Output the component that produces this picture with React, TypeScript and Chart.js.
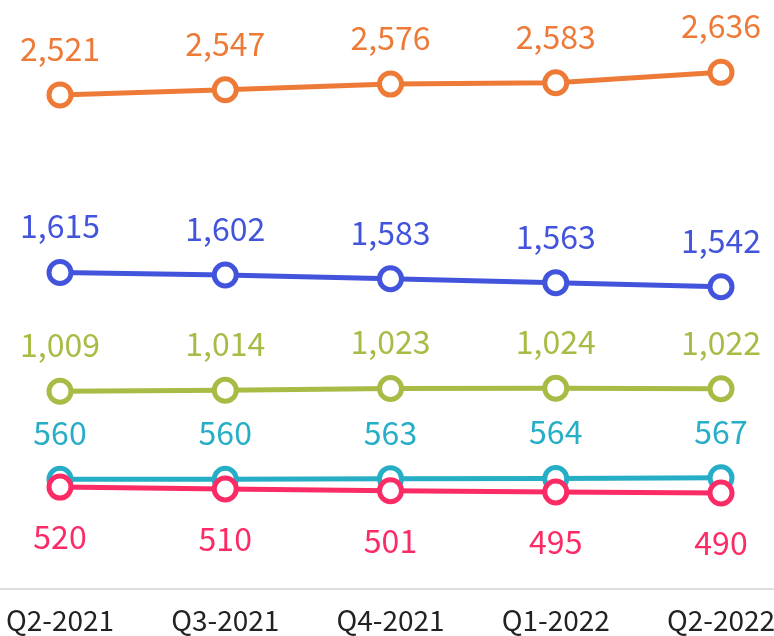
import React, { useEffect, useRef } from "react";
import { Chart, registerables } from "chart.js";

Chart.register(...registerables);

const categories = ["Q2-2021", "Q3-2021", "Q4-2021", "Q1-2022", "Q2-2022"];
const seriesOrange = [2521, 2547, 2576, 2583, 2636];
const seriesBlue = [1615, 1602, 1583, 1563, 1542];
const seriesOlive = [1009, 1014, 1023, 1024, 1022];
const seriesTeal = [560, 560, 563, 564, 567];
const seriesPink = [520, 510, 501, 495, 490];

const FONT = "'Noto Sans CJK JP', 'Noto Sans', sans-serif";

const valueLabels = {
  id: "valueLabels",
  afterDatasetsDraw(chart: any) {
    const ctx = chart.ctx;
    ctx.save();
    ctx.font = `32px ${FONT}`;
    ctx.textAlign = "center";
    ctx.textBaseline = "alphabetic";
    chart.data.datasets.forEach((ds: any, i: number) => {
      const meta = chart.getDatasetMeta(i);
      meta.data.forEach((pt: any, j: number) => {
        const v = ds.data[j] as number;
        const txt = v.toLocaleString("en-US");
        ctx.fillStyle = ds.borderColor;
        const y = ds.labelBelow ? pt.y + 62 : pt.y - 34;
        ctx.fillText(txt, pt.x, y);
      });
    });
    ctx.restore();
  },
};

const baseLine = {
  id: "baseLine",
  beforeDatasetsDraw(chart: any) {
    const ctx = chart.ctx;
    const y = chart.chartArea.bottom;
    ctx.save();
    ctx.strokeStyle = "#dddddd";
    ctx.lineWidth = 2;
    ctx.beginPath();
    ctx.moveTo(0, y);
    ctx.lineTo(chart.width, y);
    ctx.stroke();
    ctx.restore();
  },
};

export default function App() {
  const ref = useRef<HTMLCanvasElement | null>(null);
  useEffect(() => {
    if (!ref.current) return;
    const mk = (data: number[], color: string, order: number, below = false) => ({
      data,
      borderColor: color,
      backgroundColor: "#ffffff",
      pointBackgroundColor: "#ffffff",
      pointBorderColor: color,
      borderWidth: 5,
      pointRadius: 11,
      pointBorderWidth: 5,
      tension: 0,
      order,
      labelBelow: below,
    });
    const chart = new Chart(ref.current, {
      type: "line",
      data: {
        labels: categories,
        datasets: [
          mk(seriesOrange, "#EE7A38", 5),
          mk(seriesBlue, "#4254DC", 4),
          mk(seriesOlive, "#A9BA45", 3),
          mk(seriesTeal, "#26AEC6", 2),
          mk(seriesPink, "#FB2B66", 1, true),
        ] as any,
      },
      options: {
        animation: false,
        responsive: true,
        maintainAspectRatio: false,
        layout: { autoPadding: false, padding: { left: 60, right: 79, top: 1, bottom: 0 } },
        plugins: { legend: { display: false }, tooltip: { enabled: false } },
        scales: {
          x: {
            offset: false,
            grid: { display: false, drawTicks: false },
            border: { display: false },
            ticks: {
              color: "#222222",
              font: { family: FONT, size: 28 },
              padding: 15,
              maxRotation: 0,
              autoSkip: false,
            },
            afterFit: (scale: any) => {
              scale.height = 47;
              scale.paddingLeft = 0;
              scale.paddingRight = 0;
            },
          },
          y: {
            display: false,
            min: 0,
            max: 3000,
          },
        },
      },
      plugins: [baseLine, valueLabels],
    });
    return () => chart.destroy();
  }, []);
  return (
    <div style={{ position: "fixed", left: 0, top: 0, width: 774, height: 636, overflow: "hidden", background: "#fff" }}>
      <div style={{ width: 800, height: 636, position: "relative" }}>
        <canvas ref={ref} />
      </div>
    </div>
  );
}
